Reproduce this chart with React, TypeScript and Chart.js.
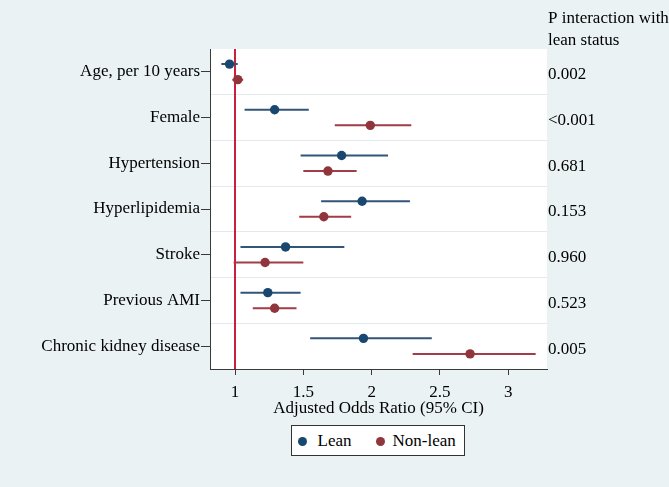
import React, { useEffect, useRef } from 'react';
import { Chart, registerables } from 'chart.js';

Chart.register(...registerables);

const FONT = '"Liberation Serif", "Times New Roman", Times, serif';

const categories = [
  'Age, per 10 years',
  'Female',
  'Hypertension',
  'Hyperlipidemia',
  'Stroke',
  'Previous AMI',
  'Chronic kidney disease',
];
const leanOR = [0.96, 1.29, 1.78, 1.93, 1.37, 1.24, 1.94];
const leanLo = [0.9, 1.07, 1.48, 1.63, 1.04, 1.04, 1.55];
const leanHi = [1.02, 1.54, 2.12, 2.28, 1.8, 1.48, 2.44];
const nonLeanOR = [1.02, 1.99, 1.68, 1.65, 1.22, 1.29, 2.72];
const nonLeanLo = [0.98, 1.73, 1.5, 1.47, 0.99, 1.13, 2.3];
const nonLeanHi = [1.06, 2.29, 1.89, 1.85, 1.5, 1.45, 3.2];
const pInteraction = ['0.002', '<0.001', '0.681', '0.153', '0.960', '0.523', '0.005'];
const pHeader = ['P interaction with', 'lean status'];
const xTicks = [1, 1.5, 2, 2.5, 3];
const xTitle = 'Adjusted Odds Ratio (95% CI)';
const seriesNames = ['Lean', 'Non-lean'];
const referenceOR = 1;

const LEAN = '#1a476f';
const LEAN_LINE = '#33557a';
const NONLEAN = '#90353b';
const NONLEAN_LINE = '#a03d47';
const REF = '#c8203e';
const BG = '#eaf2f3';
const GRID = '#e2eaed';
const AXIS = '#3a3a3a';

export default function App() {
  const ref = useRef<HTMLCanvasElement>(null);

  useEffect(() => {
    if (!ref.current) return;
    const off = 0.17;
    const pts = (vals: number[], o: number) => vals.map((v, i) => ({ x: v, y: i + o }));
    const ci = (lo: number[], hi: number[], o: number) => {
      const arr: any[] = [];
      lo.forEach((l, i) => {
        arr.push({ x: l, y: i + o }, { x: hi[i], y: i + o }, { x: null, y: null });
      });
      return arr;
    };
    const yTicks: number[] = [];
    for (let v = -0.5; v <= categories.length - 0.5 + 1e-9; v += 0.5) yTicks.push(v);
    const yMax = categories.length - 0.5;

    const decor = {
      id: 'decor',
      beforeDraw(chart: any) {
        const { ctx, chartArea: a } = chart;
        ctx.save();
        ctx.fillStyle = '#ffffff';
        ctx.fillRect(a.left, a.top, a.right - a.left, a.bottom - a.top);
        ctx.restore();
      },
      afterDraw(chart: any) {
        const { ctx, chartArea: a } = chart;
        const ys = chart.scales.y;
        ctx.save();
        ctx.fillStyle = '#000';
        ctx.font = `17px ${FONT}`;
        ctx.textAlign = 'left';
        ctx.textBaseline = 'middle';
        const x = a.right + 1;
        ctx.fillText(pHeader[0], x, 19);
        ctx.fillText(pHeader[1], x, 41);
        pInteraction.forEach((p, i) => {
          ctx.fillText(p, x, ys.getPixelForValue(i) + 3);
        });
        ctx.restore();
      },
    };

    const chart = new Chart(ref.current, {
      type: 'scatter',
      data: {
        datasets: [
          {
            label: seriesNames[0],
            data: pts(leanOR, -off),
            backgroundColor: LEAN,
            borderColor: LEAN,
            pointRadius: 4.7,
            pointBorderWidth: 0,
            order: 0,
          },
          {
            label: seriesNames[1],
            data: pts(nonLeanOR, off),
            backgroundColor: NONLEAN,
            borderColor: NONLEAN,
            pointRadius: 4.7,
            pointBorderWidth: 0,
            order: 0,
          },
          {
            label: 'lean CI',
            data: ci(leanLo, leanHi, -off),
            showLine: true,
            spanGaps: false,
            borderColor: LEAN_LINE,
            borderWidth: 2,
            pointRadius: 0,
            order: 1,
          },
          {
            label: 'non-lean CI',
            data: ci(nonLeanLo, nonLeanHi, off),
            showLine: true,
            spanGaps: false,
            borderColor: NONLEAN_LINE,
            borderWidth: 2,
            pointRadius: 0,
            order: 1,
          },
          {
            label: 'ref',
            data: [
              { x: referenceOR, y: -0.5 },
              { x: referenceOR, y: yMax },
            ],
            showLine: true,
            borderColor: REF,
            borderWidth: 2,
            pointRadius: 0,
            order: 2,
          },
        ],
      } as any,
      options: {
        animation: false,
        responsive: true,
        maintainAspectRatio: false,
        layout: { padding: { left: 0, top: 49, right: 122, bottom: 70 } },
        plugins: { legend: { display: false }, tooltip: { enabled: false } },
        scales: {
          x: {
            type: 'linear',
            min: 0.817,
            max: 3.283,
            afterBuildTicks: (s: any) => {
              s.ticks = xTicks.map((v) => ({ value: v }));
            },
            afterFit: (s: any) => {
              s.height = 48;
            },
            ticks: {
              autoSkip: false,
              maxRotation: 0,
              callback: (v: any) => String(v),
              font: { family: FONT, size: 17, lineHeight: 1 },
              color: '#000',
              padding: 9,
            },
            grid: { drawOnChartArea: false, drawTicks: true, tickLength: 6, tickColor: AXIS },
            border: { display: true, color: AXIS, width: 1 },
            title: {
              display: true,
              text: xTitle,
              color: '#000',
              font: { family: FONT, size: 17, lineHeight: 1 },
              padding: { top: 0, bottom: 0 },
            },
          },
          y: {
            type: 'linear',
            reverse: true,
            min: -0.5,
            max: yMax,
            afterBuildTicks: (s: any) => {
              s.ticks = yTicks.map((v) => ({ value: v }));
            },
            afterFit: (s: any) => {
              s.width = 210;
            },
            ticks: {
              autoSkip: false,
              callback: (v: any) => (Number.isInteger(v) ? categories[v] : ''),
              font: { family: FONT, size: 17 },
              color: '#000',
              padding: 1,
            },
            grid: {
              drawTicks: true,
              tickLength: 9,
              lineWidth: 1,
              color: (c: any) => {
                const v = c.tick ? c.tick.value : 0;
                if (Number.isInteger(v) || v <= -0.5 || v >= yMax) return 'rgba(0,0,0,0)';
                return GRID;
              },
              tickColor: (c: any) => {
                const v = c.tick ? c.tick.value : 0.5;
                return Number.isInteger(v) ? AXIS : 'rgba(0,0,0,0)';
              },
            },
            border: { display: true, color: AXIS, width: 1 },
          },
        },
      } as any,
      plugins: [decor],
    });
    return () => chart.destroy();
  }, []);

  const marker = (color: string, cx: number) => (
    <span
      style={{
        position: 'absolute',
        left: cx - 4.6,
        top: 15.7 - 4.6,
        width: 9.2,
        height: 9.2,
        borderRadius: '50%',
        background: color,
      }}
    />
  );
  const label = (text: string, x: number) => (
    <span
      style={{
        position: 'absolute',
        left: x,
        top: 5,
        fontFamily: FONT,
        fontSize: 17,
        lineHeight: '20px',
        color: '#000',
        whiteSpace: 'nowrap',
      }}
    >
      {text}
    </span>
  );

  return (
    <div
      style={{
        position: 'fixed',
        left: 0,
        top: 0,
        width: 669,
        height: 487,
        background: BG,
        overflow: 'hidden',
      }}
    >
      <canvas ref={ref} />
      <div
        style={{
          position: 'absolute',
          left: 291,
          top: 425,
          width: 174,
          height: 31,
          boxSizing: 'border-box',
          border: '1px solid #333',
          background: '#fff',
        }}
      >
        {marker(LEAN, 10.7)}
        {label(seriesNames[0], 25.5)}
        {marker(NONLEAN, 88.3)}
        {label(seriesNames[1], 100.5)}
      </div>
    </div>
  );
}
